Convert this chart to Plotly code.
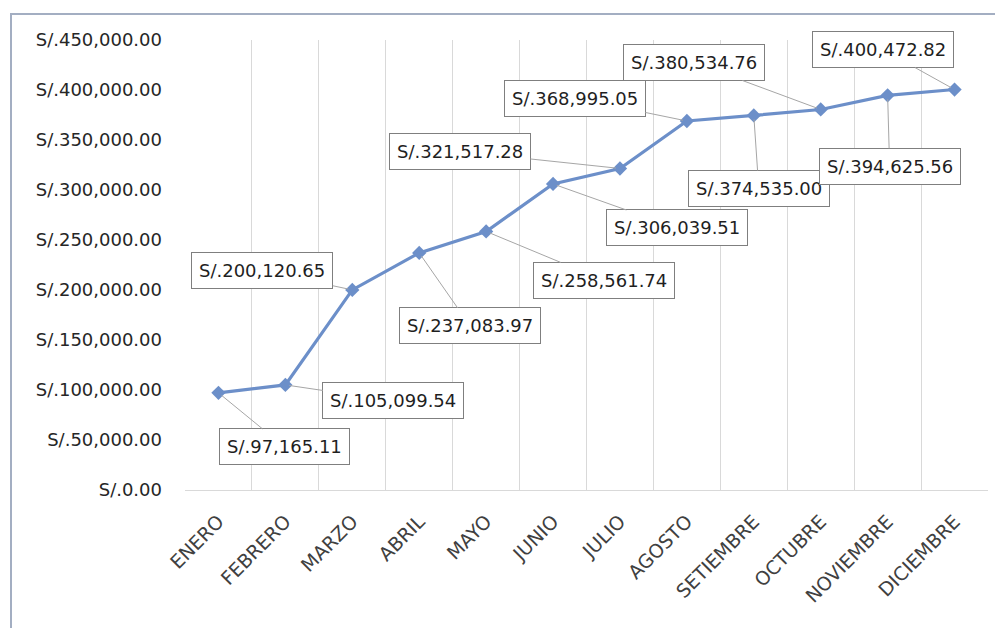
import plotly.graph_objects as go

months = ["ENERO", "FEBRERO", "MARZO", "ABRIL", "MAYO", "JUNIO", "JULIO",
          "AGOSTO", "SETIEMBRE", "OCTUBRE", "NOVIEMBRE", "DICIEMBRE"]
values = [97165.11, 105099.54, 200120.65, 237083.97, 258561.74, 306039.51,
          321517.28, 368995.05, 374535.00, 380534.76, 394625.56, 400472.82]
# label offsets (pixels) from each point to its callout box
label_dx = [66, 108, -90, 51, 118, 124, -160, -112, 5, -127, 2, -72]
label_dy = [54, 16, -19, 73, 49, 44, -17, -23, 73, -47, 71, -40]

FONT = "DejaVu Sans"
LINE = "#6C8FC9"

fig = go.Figure()
fig.add_trace(go.Scatter(
    x=months, y=values, mode="lines+markers",
    line=dict(color=LINE, width=3.2),
    marker=dict(symbol="diamond", size=11, color=LINE),
    hoverinfo="skip", showlegend=False,
))

for m, v, dx, dy in zip(months, values, label_dx, label_dy):
    fig.add_annotation(
        x=m, y=v, xref="x", yref="y",
        text="S/.{:,.2f}".format(v),
        showarrow=True, arrowhead=0, arrowwidth=1, arrowcolor="#A6A6A6",
        ax=dx, ay=dy, standoff=4,
        bgcolor="white", bordercolor="#7F7F7F", borderwidth=1, borderpad=7,
        font=dict(family=FONT, size=18, color="#1F1F1F"),
    )

# page body has an 8px margin, so the figure is laid out 8px in from the window
OFF = 8
W, H = 995, 620
L, T = 185 - OFF, 40 - OFF
R = W - (988 - OFF)
B = H - (490 - OFF)
pw, ph = W - L - R, H - T - B

def px_x(p):
    return (p - OFF - L) / pw

def px_y(p):
    return (H - B - (p - OFF)) / ph

# outer border (bottom edge runs beyond the picture)
fig.add_shape(type="path", xref="paper", yref="paper",
              path="M {a},{d} L {a},{c} L {b},{c} L {b},{d}".format(
                  a=px_x(11), b=px_x(997), c=px_y(14), d=px_y(640)),
              line=dict(color="#A3AEC2", width=2))

fig.update_layout(
    width=W, height=H,
    margin=dict(l=L, r=R, t=T, b=B, autoexpand=False),
    paper_bgcolor="white", plot_bgcolor="white",
    font=dict(family=FONT, color="#404040"),
    xaxis=dict(
        type="category", tickson="boundaries",
        showgrid=True, gridcolor="#D9D9D9", gridwidth=1,
        showline=True, linecolor="#D9D9D9", linewidth=1,
        ticks="", tickangle=-45, ticklabelstandoff=12,
        tickfont=dict(family=FONT, size=19, color="#404040"),
        range=[-0.5, 11.5], fixedrange=True, automargin=False,
    ),
    yaxis=dict(
        range=[0, 450000], dtick=50000, tick0=0,
        tickprefix="S/.", tickformat=",.2f",
        showgrid=False, zeroline=False, showline=False,
        ticks="", ticklabelstandoff=22,
        tickfont=dict(family=FONT, size=18, color="#262626"),
        fixedrange=True, automargin=False,
    ),
)

fig.write_html("out.html")
